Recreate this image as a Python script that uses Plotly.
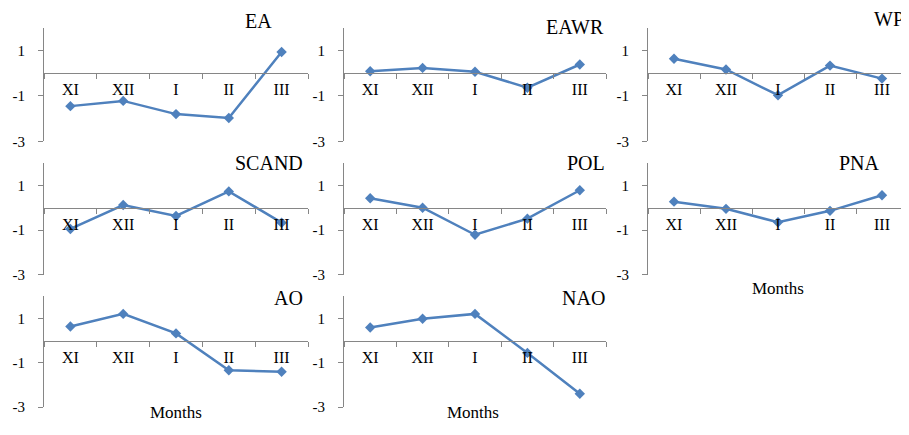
import plotly.graph_objects as go

# The page body has an 8px default margin on each side; keep the figure inside the window
WIN_W, WIN_H = 909, 435
OFF = 8
W, H = WIN_W - OFF, WIN_H - 2 * OFF

months = ["XI", "XII", "I", "II", "III"]
names = ["EA", "EAWR", "WP", "SCAND", "POL", "PNA", "AO", "NAO"]
ea = [-1.45, -1.22, -1.80, -1.97, 0.93]
eawr = [0.08, 0.23, 0.06, -0.64, 0.38]
wp = [0.63, 0.16, -0.97, 0.33, -0.24]
scand = [-0.95, 0.12, -0.37, 0.73, -0.67]
pol = [0.42, 0.00, -1.21, -0.49, 0.78]
pna = [0.27, -0.05, -0.65, -0.14, 0.56]
ao = [0.64, 1.21, 0.33, -1.33, -1.40]
nao = [0.60, 0.99, 1.21, -0.55, -2.39]
series = [ea, eawr, wp, scand, pol, pna, ao, nao]
y_ticks = [1, -1, -3]
y_min, y_max = -3, 2

# panel layout (window pixels)
cols = [(44, 308), (344, 606), (648, 908)]
rows = [(28, 144), (166, 280), (302, 415)]
title_pos = [(274, 21), (606, 27), (906, 19), (305, 166), (607, 166), (882, 166), (305, 304), (607, 304)]
months_pos = [(176, 420), (473, 420), (778, 294)]

def px(x):
    return (x - OFF) / W

def py(y):
    return 1 - (y - OFF) / H

fig = go.Figure()
grey = "#868686"
serif = "Liberation Serif, Times New Roman, serif"
annotations = []

for i, (name, vals) in enumerate(zip(names, series)):
    r, c = divmod(i, 3)
    x0, x1 = cols[c]
    y0, y1 = rows[r]
    k = i + 1
    xa = "x" if k == 1 else f"x{k}"
    ya = "y" if k == 1 else f"y{k}"
    fig.add_trace(go.Scatter(
        x=months, y=vals, xaxis=xa, yaxis=ya, mode="lines+markers",
        line=dict(color="#4F81BD", width=2.5),
        marker=dict(symbol="diamond", size=8, color="#4F81BD"),
        showlegend=False, hoverinfo="skip", cliponaxis=False))
    ybot, ytop = py(y1), py(y0)
    zero_pos = ybot + (0 - y_min) / (y_max - y_min) * (ytop - ybot)
    fig.layout[f"xaxis{'' if k == 1 else k}"] = dict(
        domain=[px(x0), min(px(x1), 1.0)], anchor="free", position=zero_pos,
        type="category", range=[-0.5, 4.5], showline=True, linecolor=grey,
        linewidth=1, ticks="outside", tickson="boundaries", ticklen=5,
        tickcolor=grey, showgrid=False, zeroline=False,
        tickfont=dict(family=serif, size=16, color="#000"),
        ticklabelstandoff=2, fixedrange=True)
    fig.layout[f"yaxis{'' if k == 1 else k}"] = dict(
        domain=[ybot, ytop], anchor=xa, range=[y_min, y_max],
        tickvals=y_ticks, ticktext=[str(t) for t in y_ticks],
        showline=True, linecolor=grey, linewidth=1, ticks="outside",
        ticklen=5, tickcolor=grey, showgrid=False, zeroline=False,
        tickfont=dict(family=serif, size=15, color="#000"),
        ticklabelstandoff=10, fixedrange=True)
    tx, ty = title_pos[i]
    annotations.append(dict(text=name, x=px(tx), y=py(ty), xref="paper", yref="paper",
                            xanchor="right", yanchor="middle", showarrow=False,
                            font=dict(family=serif, size=20, color="#000")))

for mx, my in months_pos:
    annotations.append(dict(text="Months", x=px(mx), y=py(my), xref="paper", yref="paper",
                            xanchor="center", yanchor="middle", showarrow=False,
                            font=dict(family=serif, size=17, color="#000")))

fig.update_layout(width=W, height=H, margin=dict(l=0, r=0, t=0, b=0),
                  paper_bgcolor="white", plot_bgcolor="white",
                  annotations=annotations)
fig.write_html("out.html")
